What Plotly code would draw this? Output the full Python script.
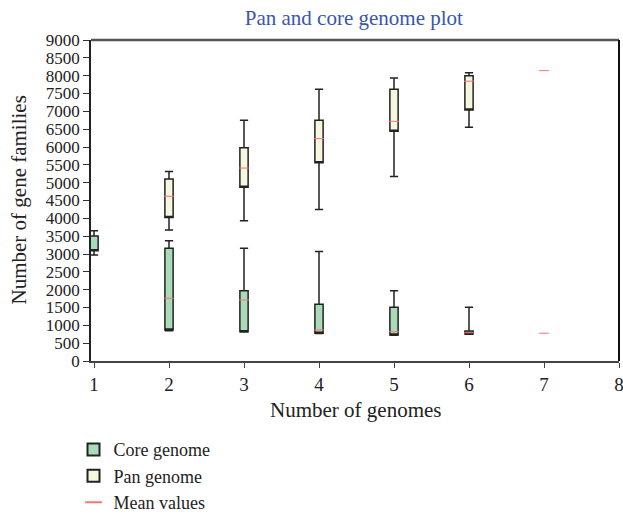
import plotly.graph_objects as go

# Data
core_x = [1, 2, 3, 4, 5, 6]
core_upper = [3650, 3370, 3160, 3070, 1970, 1510]
core_q3 = [3505, 3160, 1970, 1590, 1505, 840]
core_q1 = [3090, 870, 820, 780, 730, 760]
core_lower = [2970, 850, 810, 770, 720, 750]

pan_x = [2, 3, 4, 5, 6]
pan_upper = [5310, 6750, 7620, 7935, 8085]
pan_q3 = [5100, 5980, 6750, 7620, 8000]
pan_q1 = [4020, 4870, 5560, 6440, 7040]
pan_lower = [3670, 3935, 4245, 5170, 6555]

mean_x = [2, 3, 4, 5, 6, 7, 2, 3, 4, 5, 6, 7]
mean_y = [1760, 1710, 870, 820, 790, 780, 4620, 5410, 6235, 6720, 7845, 8140]

y_ticks = list(range(0, 9001, 500))
x_ticks = [1, 2, 3, 4, 5, 6, 7, 8]

FONT = "Liberation Serif"
W, H = 623, 514
ML, MR, MT, MB = 91, 4, 40, 153
PW, PH = W - ML - MR, H - MT - MB

fig = go.Figure()
fig.add_trace(go.Box(
    name="Core genome", x=core_x, q1=core_q1, median=core_q1, q3=core_q3,
    lowerfence=core_lower, upperfence=core_upper,
    fillcolor="#a9dbb9", line=dict(color="#222222", width=1.5),
    width=0.11, whiskerwidth=1, boxpoints=False,
))
fig.add_trace(go.Box(
    name="Pan genome", x=pan_x, q1=pan_q1, median=pan_q1, q3=pan_q3,
    lowerfence=pan_lower, upperfence=pan_upper,
    fillcolor="#f7f7df", line=dict(color="#222222", width=1.5),
    width=0.11, whiskerwidth=1, boxpoints=False,
))
fig.add_trace(go.Scatter(
    name="Mean values", x=mean_x, y=mean_y, mode="markers",
    marker=dict(symbol="line-ew", size=7, line=dict(color="#ff7070", width=1)),
))

fig.update_layout(
    width=W, height=H,
    paper_bgcolor="white", plot_bgcolor="white",
    margin=dict(l=ML, r=MR, t=MT, b=MB, autoexpand=False),
    font=dict(family=FONT, size=17, color="#222222"),
    title=dict(text="Pan and core genome plot", x=0.568, xanchor="center", y=0.965, yanchor="middle",
               font=dict(family=FONT, size=21, color="#3a55b0")),
    showlegend=True,
    legend=dict(xref="container", yref="container", x=0.118, xanchor="left", y=0.161, yanchor="top",
                font=dict(family=FONT, size=18), tracegroupgap=0, itemsizing="constant",
                bgcolor="rgba(0,0,0,0)"),
    boxmode="overlay",
)
fig.update_xaxes(
    range=[0.96, 8], tickvals=x_ticks, ticktext=[str(v) for v in x_ticks], automargin=False,
    showgrid=False, zeroline=False, showline=True, linecolor="#444444", linewidth=1.5,
    ticks="outside", ticklen=5, tickcolor="#444444", tickfont=dict(size=19),
    ticklabeloverflow="allow",
)
fig.update_yaxes(
    range=[0, 9000], tickvals=y_ticks, ticktext=[str(v) for v in y_ticks], automargin=False,
    showgrid=False, zeroline=False, showline=True, linecolor="#222222", linewidth=1.5,
    ticks="outside", ticklen=6, tickcolor="#333333", tickfont=dict(size=17),
    ticklabeloverflow="allow",
)
# axis titles
fig.add_annotation(text="Number of genomes", xref="paper", yref="paper", x=0.5, y=(H - MB - 410) / PH,
                   xanchor="center", yanchor="middle", showarrow=False,
                   font=dict(family=FONT, size=21, color="#222222"))
fig.add_annotation(text="Number of gene families", xref="paper", yref="paper", x=(18 - ML) / PW, y=0.5,
                   xanchor="center", yanchor="middle", showarrow=False, textangle=-90,
                   font=dict(family=FONT, size=21, color="#222222"))
# top and right frame lines
fig.add_shape(type="line", xref="paper", yref="paper", x0=0, x1=1, y0=1, y1=1,
              line=dict(color="#555555", width=2.5))
fig.add_shape(type="line", xref="paper", yref="paper", x0=1, x1=1, y0=0, y1=1,
              line=dict(color="#111111", width=2))

fig.write_html("out.html", config={"displayModeBar": False},
               post_script="document.body.style.margin='0';")
